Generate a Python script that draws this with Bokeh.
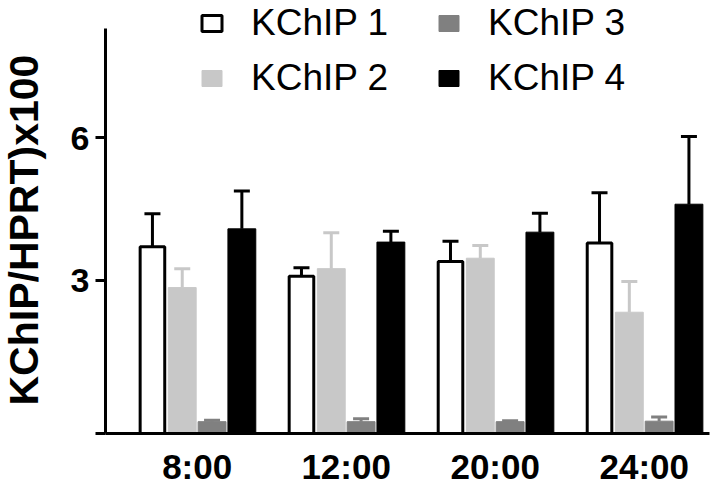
import numpy as np
from bokeh.plotting import figure
from bokeh.models import (ColumnDataSource, Range1d, FixedTicker, Legend, LegendItem,
                          Whisker, TeeHead, CustomJSTickFormatter, Title)
from bokeh.embed import file_html
from bokeh.resources import INLINE

# ---- data ----
times = ["8:00", "12:00", "20:00", "24:00"]
series = ["KChIP 1", "KChIP 2", "KChIP 3", "KChIP 4"]
kchip1 = [3.70, 3.08, 3.39, 3.78]
kchip1_err = [0.70, 0.18, 0.43, 1.06]
kchip2 = [2.84, 3.24, 3.46, 2.32]
kchip2_err = [0.40, 0.76, 0.27, 0.65]
kchip3 = [0.01, 0.01, 0.01, 0.02]
kchip3_err = [0.03, 0.06, 0.02, 0.09]
kchip4 = [4.08, 3.80, 4.01, 4.60]
kchip4_err = [0.80, 0.23, 0.40, 1.43]
y_ticks = [3, 6]
y_title = "KChIP/HPRT)x100"

# ---- style ----
Y_START, AXIS_TOP, Y_END = -0.24, 8.31, 8.90
offsets = [-0.3, -0.1, 0.1, 0.3]
widths = [0.165, 0.187, 0.187, 0.187]
fills = ["white", "#c8c8c8", "#808080", "black"]
lines = ["black", "#c8c8c8", "#808080", "black"]
line_ws = [3, 1, 1, 1]
err_colors = ["black", "#c8c8c8", "#808080", "black"]
FONT = "Liberation Sans"

p = figure(width=718, height=490, x_range=Range1d(0.385, 4.438), y_range=Range1d(Y_START, Y_END),
           output_backend="svg", toolbar_location=None,
           min_border_left=101, min_border_right=9, min_border_top=0, min_border_bottom=57)
p.outline_line_color = None
p.xgrid.visible = False
p.ygrid.visible = False
p.background_fill_color = "white"

groups = list(range(1, len(times) + 1))
vals = [kchip1, kchip2, kchip3, kchip4]
errs = [kchip1_err, kchip2_err, kchip3_err, kchip4_err]
renderers = []
for i in range(4):
    src = ColumnDataSource(dict(
        x=[g + offsets[i] for g in groups],
        top=vals[i],
        up=[v + e for v, e in zip(vals[i], errs[i])],
    ))
    r = p.vbar(x="x", top="top", bottom=Y_START, width=widths[i], source=src,
               fill_color=fills[i], line_color=lines[i], line_width=line_ws[i])
    renderers.append(r)
    w = Whisker(source=src, base="x", lower="top", upper="up", dimension="height",
                lower_head=None,
                upper_head=TeeHead(size=16, line_width=3, line_color=err_colors[i]),
                line_color=err_colors[i], line_width=3, level="glyph")
    p.add_layout(w)

# axes
xa = p.xaxis[0]
xa.ticker = FixedTicker(ticks=groups)
xa.major_label_overrides = {g: t for g, t in zip(groups, times)}
xa.major_tick_out = 0
xa.major_tick_in = 0
xa.minor_tick_out = 0
xa.minor_tick_in = 0
xa.axis_line_width = 3
xa.axis_line_color = "black"
xa.major_label_standoff = 13
xa.major_label_text_font = FONT
xa.major_label_text_font_style = "bold"
xa.major_label_text_font_size = "35px"
xa.major_label_text_color = "black"

ya = p.yaxis[0]
ya.bounds = (Y_START, AXIS_TOP)
ya.ticker = FixedTicker(ticks=[Y_START] + y_ticks)
# the unlabelled bottom tick gets a blank (non-breaking spaces) label, which only reserves width
ya.formatter = CustomJSTickFormatter(
    code="return tick > 0 ? tick.toFixed(0) : '\\u00a0\\u00a0\\u00a0\\u00a0';")
ya.major_tick_out = 10
ya.major_tick_in = 0
ya.minor_tick_out = 0
ya.minor_tick_in = 0
ya.major_tick_line_width = 3
ya.axis_line_width = 3
ya.axis_line_color = "black"
ya.major_label_standoff = 6
ya.major_label_text_font = FONT
ya.major_label_text_font_style = "bold"
ya.major_label_text_font_size = "34px"
ya.major_label_text_color = "black"

ytitle = Title(text=y_title, align="left", offset=28, standoff=0, vertical_align="top",
               text_font=FONT, text_font_style="bold", text_font_size="41px", text_color="black")
p.add_layout(ytitle, "left")

def make_legend(items, loc):
    return Legend(items=items, location=loc, orientation="vertical",
                  glyph_width=25, glyph_height=20, label_standoff=27, spacing=13,
                  padding=0, margin=0, border_line_alpha=0, background_fill_alpha=0,
                  label_text_font=FONT, label_text_font_size="37px", label_text_color="black")

leg1 = make_legend([LegendItem(label=series[0], renderers=[renderers[0]]),
                    LegendItem(label=series[1], renderers=[renderers[1]])], (94, 334))
leg2 = make_legend([LegendItem(label=series[2], renderers=[renderers[2]]),
                    LegendItem(label=series[3], renderers=[renderers[3]])], (331, 334))
p.add_layout(leg1)
p.add_layout(leg2)

open("out.html", "w").write(file_html(p, INLINE))
